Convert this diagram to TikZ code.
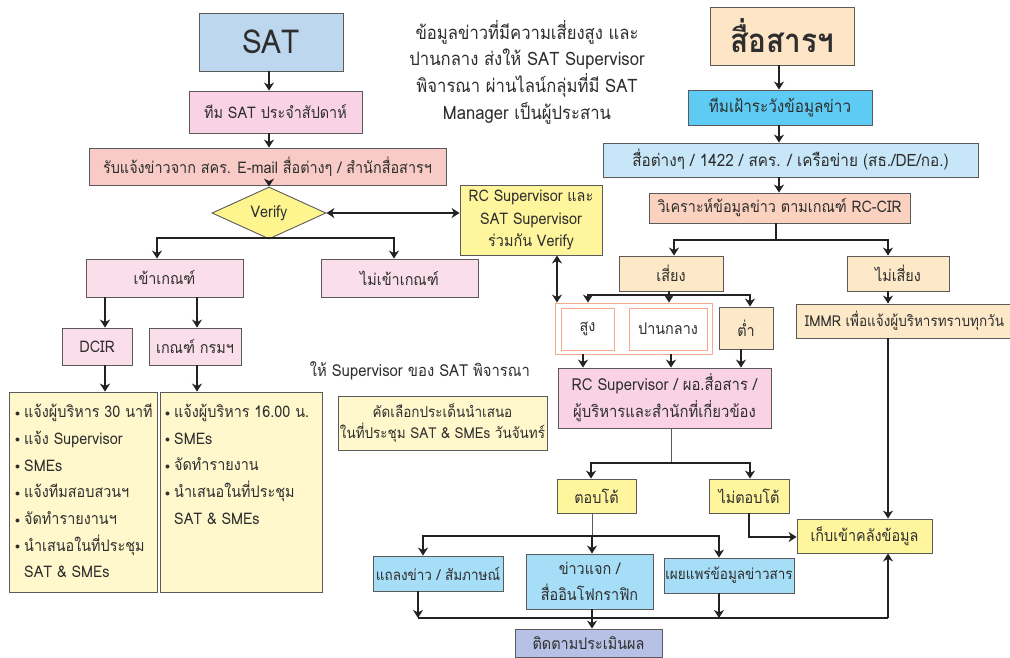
\documentclass[tikz,border=0pt]{standalone}
\usepackage{fontspec}
\setmainfont{Loma}[Script=Thai,FakeStretch=0.9]
\usetikzlibrary{arrows.meta,shapes.geometric}
\definecolor{bordergray}{HTML}{5A5A5A}
\definecolor{txt}{HTML}{2E2E2E}
\definecolor{arrowcol}{HTML}{222222}
\definecolor{satblue}{HTML}{BDD7EE}
\definecolor{pinkA}{HTML}{F9D3E5}
\definecolor{salmonA}{HTML}{F8CBC6}
\definecolor{diamy}{HTML}{FFF58F}
\definecolor{pinkB}{HTML}{FADEEA}
\definecolor{paley}{HTML}{FFF8CC}
\definecolor{yel}{HTML}{FFF59D}
\definecolor{peachA}{HTML}{FDE5C5}
\definecolor{sky}{HTML}{5DCBF3}
\definecolor{lblue}{HTML}{C7E7F9}
\definecolor{salmonB}{HTML}{FBD2C0}
\definecolor{peachB}{HTML}{FDE8C8}
\definecolor{orangeln}{HTML}{F7A98E}
\definecolor{bblue}{HTML}{A6DDF7}
\definecolor{lav}{HTML}{B6C1E5}
\newcommand\fs{\fontsize{16}{22}\selectfont}
\newcommand\bul{\makebox[9pt][l]{\raisebox{1.5pt}{\fontsize{10}{10}\selectfont$\bullet$}}}
\begin{document}
\begin{tikzpicture}[x=1pt,y=-1pt,
  box/.style={draw=bordergray, line width=0.9pt, inner sep=0pt, align=center, text=txt, font=\fs},
  obox/.style={draw=orangeln, line width=0.9pt, inner sep=0pt, align=center, text=txt, font=\fs},
  arr/.style={line width=2.4pt, draw=arrowcol, -{Stealth[length=8pt,width=10pt,inset=2.5pt]}},
  dbl/.style={line width=2.4pt, draw=arrowcol, {Stealth[length=8pt,width=10pt,inset=2.5pt]}-{Stealth[length=8pt,width=10pt,inset=2.5pt]}},
  ln/.style={line width=2.4pt, draw=arrowcol},
  thinln/.style={line width=0.9pt, draw=bordergray},
  plain/.style={inner sep=0pt, align=center, text=txt, font=\fs}]
\useasboundingbox (0,0) rectangle (1010,657);
\fill[white] (0,0) rectangle (1010,657);

% ---------- left (SAT) ----------
\node[box, fill=satblue, minimum width=144pt, minimum height=58pt, font=\fontsize{33}{36}\selectfont] (sat) at (271,42) {SAT};
\node[box, fill=pinkA, minimum width=173pt, minimum height=42pt] (team) at (275.5,112) {ทีม SAT ประจำสัปดาห์};
\node[box, fill=salmonA, minimum width=357pt, minimum height=37pt] (recv) at (267.5,166.5) {รับแจ้งข่าวจาก สคร. E-mail สื่อต่างๆ / สำนักสื่อสารฯ};
\node[diamond, draw=bordergray, line width=0.9pt, fill=diamy, minimum width=114pt, minimum height=31pt, inner sep=0pt, text=txt, font=\fs] (verify) at (269,213) {Verify};
\node[box, fill=pinkB, minimum width=157pt, minimum height=38pt] (inc) at (164.5,278) {เข้าเกณฑ์};
\node[box, fill=pinkB, minimum width=157pt, minimum height=38pt] (ninc) at (399.5,278) {ไม่เข้าเกณฑ์};
\node[box, fill=pinkB, minimum width=70pt, minimum height=37pt] (dcir) at (97,346.5) {DCIR};
\node[box, fill=pinkB, minimum width=92pt, minimum height=37pt] (dept) at (195,346.5) {เกณฑ์ กรมฯ};
\node[box, fill=paley, minimum width=148pt, minimum height=200pt] (b1) at (83,492) {};
\node[box, fill=paley, minimum width=162pt, minimum height=200pt] (b2) at (241,492) {};
\node[plain, anchor=north west, align=left, font=\fontsize{16}{26.7}\selectfont] (b1t) at (15,404) {%
\bul แจ้งผู้บริหาร 30 นาที\\
\bul แจ้ง Supervisor\\
\bul SMEs\\
\bul แจ้งทีมสอบสวนฯ\\
\bul จัดทำรายงานฯ\\
\bul นำเสนอในที่ประชุม\\
\hspace*{9pt}SAT \& SMEs};
\node[plain, anchor=north west, align=left, font=\fontsize{16}{26.7}\selectfont] (b2t) at (165,404) {%
\bul แจ้งผู้บริหาร 16.00 น.\\
\bul SMEs\\
\bul จัดทำรายงาน\\
\bul นำเสนอในที่ประชุม\\
\hspace*{9pt}SAT \& SMEs};

% ---------- middle ----------
\node[plain, font=\fontsize{18.5}{26.7}\selectfont] (note) at (527,72) {ข้อมูลข่าวที่มีความเสี่ยงสูง และ\\ปานกลาง ส่งให้ SAT Supervisor\\พิจารณา ผ่านไลน์กลุ่มที่มี SAT\\Manager เป็นผู้ประสาน};
\node[box, fill=yel, minimum width=142pt, minimum height=70pt, font=\fontsize{16}{22.5}\selectfont] (rcsup) at (531,220) {RC Supervisor และ\\SAT Supervisor\\ร่วมกัน Verify};
\node[plain, font=\fontsize{16.5}{20}\selectfont] (givesup) at (420,371) {ให้ Supervisor ของ SAT พิจารณา};
\node[box, fill=paley, minimum width=209pt, minimum height=54pt, font=\fontsize{15}{21}\selectfont] (select) at (442.5,423) {คัดเลือกประเด็นนำเสนอ\\ในที่ประชุม SAT \& SMEs วันจันทร์};

% ---------- right (สื่อสารฯ) ----------
\node[box, fill=peachA, minimum width=144pt, minimum height=58pt, font=\fontsize{33}{36}\selectfont\bfseries] (media) at (782,36) {สื่อสารฯ};
\node[box, fill=sky, minimum width=184pt, minimum height=35pt, font=\fontsize{17}{22}\selectfont] (watch) at (780,107.5) {ทีมเฝ้าระวังข้อมูลข่าว};
\node[box, fill=lblue, minimum width=375pt, minimum height=34pt, font=\fontsize{17}{22}\selectfont] (src) at (790.5,160) {สื่อต่างๆ / 1422 / สคร. / เครือข่าย (สธ./DE/กอ.)};
\node[box, fill=salmonB, minimum width=261pt, minimum height=30pt] (analyze) at (779.5,208) {วิเคราะห์ข้อมูลข่าว ตามเกณฑ์ RC-CIR};
\node[box, fill=peachB, minimum width=104pt, minimum height=35pt] (risk) at (671,273.5) {เสี่ยง};
\node[box, fill=peachB, minimum width=102pt, minimum height=35pt] (norisk) at (898,273.5) {ไม่เสี่ยง};
\node[obox, minimum width=157pt, minimum height=51pt] (riskgroup) at (633.5,328.5) {};
\node[obox, fill=white, minimum width=53pt, minimum height=42pt] (high) at (587.5,329) {สูง};
\node[obox, fill=white, minimum width=78pt, minimum height=42pt] (mid) at (668,329) {ปานกลาง};
\node[box, fill=peachB, minimum width=54pt, minimum height=42pt] (low) at (746,328) {ต่ำ};
\node[box, fill=pinkA, minimum width=213pt, minimum height=60pt, font=\fontsize{16.5}{27}\selectfont] (rcdir) at (664.5,398) {RC Supervisor / ผอ.สื่อสาร /\\ผู้บริหารและสำนักที่เกี่ยวข้อง};
\node[box, fill=peachB, minimum width=217pt, minimum height=34pt, font=\fontsize{15}{20}\selectfont] (immr) at (904.5,321) {IMMR เพื่อแจ้งผู้บริหารทราบทุกวัน};
\node[box, fill=yel, minimum width=79pt, minimum height=34pt] (respond) at (596.5,496) {ตอบโต้};
\node[box, fill=yel, minimum width=80pt, minimum height=34pt] (norespond) at (749,496) {ไม่ตอบโต้};
\node[box, fill=yel, minimum width=135pt, minimum height=34pt] (store) at (864.5,536) {เก็บเข้าคลังข้อมูล};
\node[box, fill=bblue, minimum width=130pt, minimum height=35pt, font=\fontsize{15}{20}\selectfont] (press) at (438,573.5) {แถลงข่าว / สัมภาษณ์};
\node[box, fill=bblue, minimum width=127pt, minimum height=55pt, font=\fontsize{16}{26}\selectfont] (handout) at (589.5,581.5) {ข่าวแจก /\\สื่ออินโฟกราฟิก};
\node[box, fill=bblue, minimum width=130pt, minimum height=35pt, font=\fontsize{15}{20}\selectfont] (publish) at (729,575.5) {เผยแพร่ข้อมูลข่าวสาร};
\node[box, fill=lav, minimum width=147pt, minimum height=28pt] (follow) at (588.5,643) {ติดตามประเมินผล};

% ---------- connectors left ----------
\coordinate (cA) at (269,0);
\draw[arr] (sat.south -| cA) -- (team.north -| cA);
\draw[arr] (team.south -| cA) -- (recv.north -| cA);
\draw[arr] (recv.south -| cA) -- (verify.north);
\coordinate (j1) at (269,238);
\coordinate (j1l) at (157,238);
\coordinate (j1r) at (394,238);
\draw[ln] (verify.south) -- (j1);
\draw[arr] (j1) -- (j1l) -- (j1l |- inc.north);
\draw[arr] (j1) -- (j1r) -- (j1r |- ninc.north);
\coordinate (c105) at (105,0);
\coordinate (c197) at (197,0);
\draw[arr] (inc.south -| c105) -- (dcir.north -| c105);
\draw[arr] (inc.south -| c197) -- (dept.north -| c197);
\draw[arr] (dcir.south -| c105) -- (b1.north -| c105);
\draw[arr] (dept.south -| c197) -- (b2.north -| c197);
\draw[dbl] (verify.east) -- (verify.east -| rcsup.west);
\coordinate (c557) at (557,0);
\draw[dbl] (rcsup.south -| c557) -- (riskgroup.north -| c557);

% ---------- connectors right ----------
\coordinate (cB) at (779,0);
\draw[arr] (media.south -| cB) -- (watch.north -| cB);
\draw[arr] (watch.south -| cB) -- (src.north -| cB);
\draw[arr] (src.south -| cB) -- (analyze.north -| cB);
\coordinate (j2) at (776,240);
\coordinate (j2l) at (674,240);
\coordinate (j2r) at (888,240);
\draw[ln] (analyze.south -| j2) -- (j2);
\draw[arr] (j2) -- (j2l) -- (j2l |- risk.north);
\draw[arr] (j2) -- (j2r) -- (j2r |- norisk.north);
\coordinate (j3) at (669,295);
\coordinate (j3l) at (588,295);
\coordinate (j3r) at (750,295);
\draw[ln] (risk.south -| j3) -- (j3);
\draw[arr] (j3) -- (j3l) -- (j3l |- riskgroup.north);
\draw[arr] (j3) -- (j3 |- riskgroup.north);
\draw[arr] (j3) -- (j3r) -- (j3r |- low.north);
\coordinate (c583) at (583,0);
\coordinate (c671) at (671,0);
\coordinate (c741) at (741,0);
\draw[arr] (riskgroup.south -| c583) -- (rcdir.north -| c583);
\draw[arr] (riskgroup.south -| c671) -- (rcdir.north -| c671);
\draw[arr] (low.south -| c741) -- (rcdir.north -| c741);
\coordinate (j4) at (671,463);
\coordinate (j4l) at (591,463);
\coordinate (j4r) at (750,463);
\draw[thinln] (rcdir.south -| j4) -- (j4);
\draw[arr] (j4) -- (j4l) -- (j4l |- respond.north);
\draw[arr] (j4) -- (j4r) -- (j4r |- norespond.north);
\coordinate (c888) at (888,0);
\draw[arr] (norisk.south -| c888) -- (immr.north -| c888);
\draw[arr] (immr.south -| c888) -- (store.north -| c888);
\coordinate (k1) at (749,537);
\draw[arr] (norespond.south -| k1) -- (k1) -- (k1 -| store.west);
\coordinate (j6) at (592,536);
\coordinate (j6l) at (423,536);
\coordinate (j6r) at (719,536);
\draw[thinln] (respond.south -| j6) -- (j6);
\draw[arr] (j6) -- (j6l) -- (j6l |- press.north);
\draw[arr] (j6) -- (j6 |- handout.north);
\draw[arr] (j6) -- (j6r) -- (j6r |- publish.north);
\coordinate (b0) at (418,618);
\coordinate (bR) at (888,618);
\coordinate (b592) at (592,618);
\coordinate (b719) at (719,618);
\draw[arr] (press.south -| b0) -- (b0);
\draw[arr] (publish.south -| b719) -- (b719);
\draw[ln] (b0) -- (bR);
\draw[arr] (bR) -- (bR |- store.south);
\draw[arr] (handout.south -| b592) -- (b592 |- follow.north);
\end{tikzpicture}
\end{document}
